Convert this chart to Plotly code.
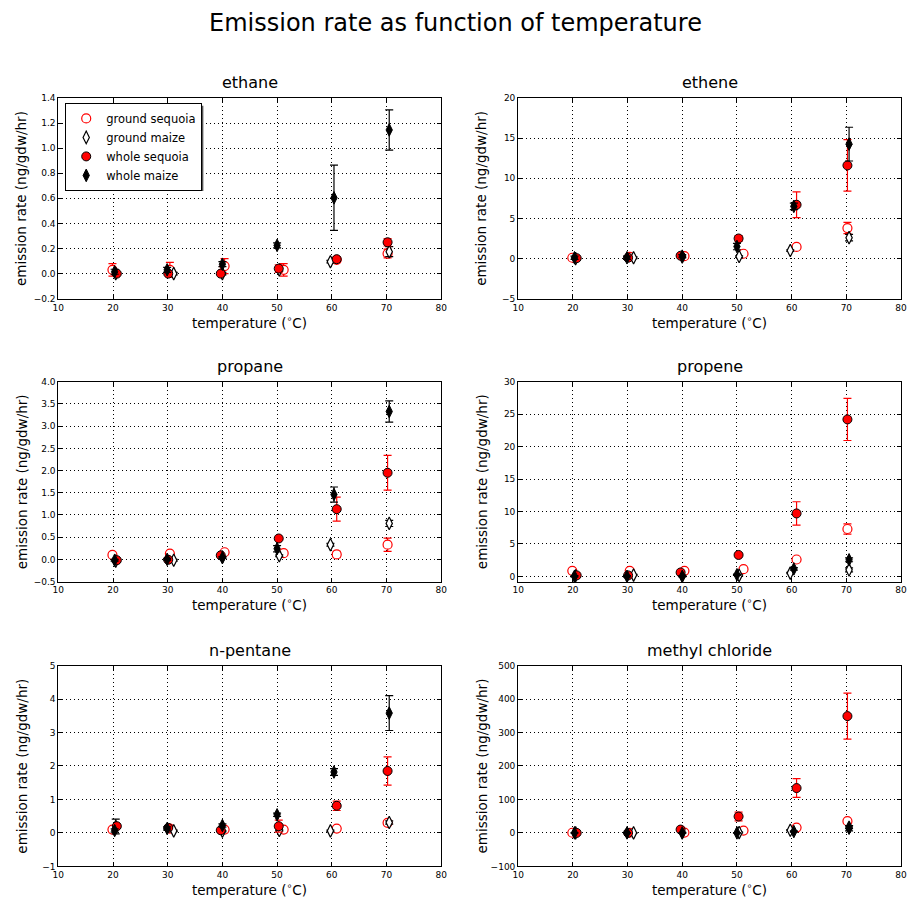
import plotly.graph_objects as go

# ---------------- data ----------------
compounds = ["ethane", "ethene", "propane", "propene", "n-pentane", "methyl chloride"]
series_names = ["ground sequoia", "ground maize", "whole sequoia", "whole maize"]

# measured temperatures (deg C) of each series
x_ground_sequoia = [19.9, 30.4, 40.4, 51.2, 60.9, 70.2]
x_ground_maize = [20.5, 31.1, 40.0, 50.4, 59.75, 70.5]
x_whole_sequoia = [20.7, 30.1, 39.7, 50.3, 60.9, 70.2]
x_whole_maize = [20.3, 29.9, 40.0, 50.0, 60.4, 70.5]

# ethane
ethane_gs = [0.03, 0.03, 0.06, 0.03, 0.11, 0.16]
ethane_gs_err = [0.05, 0.06, 0.06, 0.05, 0.02, 0.035]
ethane_gm = [0.0, 0.0, 0.0, 0.03, 0.095, 0.175]
ethane_gm_err = [0.01, 0.01, 0.01, 0.01, 0.01, 0.04]
ethane_ws = [0.0, 0.0, 0.0, 0.04, 0.115, 0.25]
ethane_ws_err = [0.01, 0.01, 0.01, 0.03, 0.01, 0.03]
ethane_wm = [0.015, 0.03, 0.075, 0.225, 0.604, 1.145]
ethane_wm_err = [0.02, 0.02, 0.02, 0.02, 0.26, 0.16]

# ethene
ethene_gs = [0.1, 0.2, 0.3, 0.6, 1.45, 3.8]
ethene_gs_err = [0.1, 0.1, 0.1, 0.1, 0.1, 0.7]
ethene_gm = [0.0, 0.1, 0.2, 0.25, 1.0, 2.6]
ethene_gm_err = [0.1, 0.1, 0.1, 0.1, 0.1, 0.4]
ethene_ws = [0.05, 0.1, 0.35, 2.5, 6.7, 11.6]
ethene_ws_err = [0.1, 0.1, 0.1, 0.35, 1.6, 3.2]
ethene_wm = [0.1, 0.1, 0.3, 1.5, 6.5, 14.25]
ethene_wm_err = [0.2, 0.2, 0.2, 0.4, 0.4, 2.1]

# propane
propane_gs = [0.1, 0.13, 0.16, 0.14, 0.11, 0.33]
propane_gs_err = [0.02, 0.02, 0.02, 0.02, 0.07, 0.15]
propane_gm = [-0.04, -0.02, 0.05, 0.08, 0.33, 0.81]
propane_gm_err = [0.02, 0.02, 0.02, 0.02, 0.03, 0.07]
propane_ws = [-0.02, -0.01, 0.09, 0.47, 1.13, 1.95]
propane_ws_err = [0.02, 0.02, 0.02, 0.02, 0.27, 0.39]
propane_wm = [-0.02, 0.0, 0.04, 0.24, 1.46, 3.33]
propane_wm_err = [0.02, 0.02, 0.02, 0.07, 0.17, 0.24]

# propene
propene_gs = [0.85, 0.85, 0.85, 1.1, 2.6, 7.3]
propene_gs_err = [0.1, 0.1, 0.1, 0.1, 0.2, 0.8]
propene_gm = [0.1, 0.2, 0.1, 0.15, 0.5, 1.0]
propene_gm_err = [0.1, 0.1, 0.1, 0.1, 0.1, 0.3]
propene_ws = [0.15, 0.15, 0.6, 3.3, 9.7, 24.2]
propene_ws_err = [0.1, 0.1, 0.1, 0.2, 1.8, 3.25]
propene_wm = [0.0, 0.0, 0.0, 0.25, 1.15, 2.55]
propene_wm_err = [0.1, 0.1, 0.1, 0.1, 0.2, 0.3]

# n-pentane
npentane_gs = [0.1, 0.13, 0.1, 0.1, 0.13, 0.3]
npentane_gs_err = [0.05, 0.02, 0.02, 0.02, 0.02, 0.06]
npentane_gm = [0.19, 0.06, 0.05, 0.07, 0.06, 0.31]
npentane_gm_err = [0.22, 0.02, 0.02, 0.02, 0.02, 0.05]
npentane_ws = [0.2, 0.15, 0.08, 0.2, 0.81, 1.85]
npentane_ws_err = [0.05, 0.02, 0.02, 0.18, 0.14, 0.42]
npentane_wm = [0.07, 0.13, 0.22, 0.54, 1.82, 3.58]
npentane_wm_err = [0.05, 0.05, 0.05, 0.05, 0.1, 0.52]

# methyl chloride
mecl_gs = [0.5, 0.5, 1.0, 7.0, 16.0, 35.0]
mecl_gs_err = [1, 1, 1, 2, 2, 5]
mecl_gm = [0.0, 0.0, 0.5, 1.0, 8.0, 17.0]
mecl_gm_err = [1, 1, 1, 1, 2, 4]
mecl_ws = [0.0, 0.0, 10.0, 49.0, 134.0, 349.0]
mecl_ws_err = [1, 1, 2, 13, 28, 69]
mecl_wm = [0.0, 0.0, 0.0, 0.0, 4.0, 14.0]
mecl_wm_err = [1, 1, 1, 1, 2, 8]

x_ticks = [10, 20, 30, 40, 50, 60, 70, 80]
y_ranges = [[-0.2, 1.4], [-5, 20], [-0.5, 4.0], [-0.8, 30], [-1, 5], [-100, 500]]
y_dticks = [0.2, 5, 0.5, 5, 1, 100]
y_formats = [".1f", "d", ".1f", "d", "d", "d"]

# ---------------- figure ----------------
W, H = 910, 903
FONT = "DejaVu Sans"
col_px = [(53, 441), (519, 907)]
row_px = [(94, 297), (381, 583), (668, 871)]

data_sets = [
    (ethane_gs, ethane_gs_err, ethane_gm, ethane_gm_err, ethane_ws, ethane_ws_err, ethane_wm, ethane_wm_err),
    (ethene_gs, ethene_gs_err, ethene_gm, ethene_gm_err, ethene_ws, ethene_ws_err, ethene_wm, ethene_wm_err),
    (propane_gs, propane_gs_err, propane_gm, propane_gm_err, propane_ws, propane_ws_err, propane_wm, propane_wm_err),
    (propene_gs, propene_gs_err, propene_gm, propene_gm_err, propene_ws, propene_ws_err, propene_wm, propene_wm_err),
    (npentane_gs, npentane_gs_err, npentane_gm, npentane_gm_err, npentane_ws, npentane_ws_err, npentane_wm, npentane_wm_err),
    (mecl_gs, mecl_gs_err, mecl_gm, mecl_gm_err, mecl_ws, mecl_ws_err, mecl_wm, mecl_wm_err),
]

styles = [
    dict(x=x_ground_sequoia, marker=dict(symbol="circle", size=9, color="white",
                                         line=dict(color="red", width=1.2)), ecolor="red"),
    dict(x=x_ground_maize, marker=dict(symbol="diamond-tall", size=9, color="white",
                                       line=dict(color="black", width=1.2)), ecolor="black"),
    dict(x=x_whole_sequoia, marker=dict(symbol="circle", size=9, color="red",
                                        line=dict(color="black", width=1)), ecolor="red"),
    dict(x=x_whole_maize, marker=dict(symbol="diamond-tall", size=9, color="black",
                                      line=dict(color="black", width=1)), ecolor="black"),
]

fig = go.Figure()
annotations = []

for i, name in enumerate(compounds):
    r, c = divmod(i, 2)
    ax = "" if i == 0 else str(i + 1)
    xa, ya = "x" + ax, "y" + ax
    vals = data_sets[i]
    for s in range(4):
        st = styles[s]
        fig.add_trace(go.Scatter(
            x=st["x"], y=vals[2 * s], mode="markers", name=series_names[s],
            legendgroup=series_names[s], showlegend=(i == 0),
            marker=st["marker"],
            error_y=dict(type="data", array=vals[2 * s + 1], visible=True,
                         color=st["ecolor"], thickness=1.2, width=4),
            xaxis=xa, yaxis=ya, cliponaxis=False,
        ))
    x0, x1 = col_px[c]
    y0, y1 = row_px[r]
    axis_common = dict(showline=True, linecolor="black", linewidth=1, mirror="ticks",
                       ticks="inside", ticklen=4, tickcolor="black", tickwidth=1,
                       showgrid=True, gridcolor="black", griddash="1px,3px", gridwidth=1,
                       zeroline=False, tickfont=dict(family=FONT, size=9, color="black"))
    fig.update_layout(**{
        "xaxis" + ax: dict(domain=[x0 / W, x1 / W], range=[10, 80], tickvals=x_ticks,
                           anchor=ya, **axis_common),
        "yaxis" + ax: dict(domain=[1 - y1 / H, 1 - y0 / H], range=y_ranges[i],
                           dtick=y_dticks[i], tick0=0, tickformat=y_formats[i],
                           anchor=xa, **axis_common),
    })
    cx = (x0 + x1) / 2 / W
    # subplot title
    annotations.append(dict(text=name, x=cx, y=1 - (y0 - 4) / H, xref="paper", yref="paper",
                            xanchor="center", yanchor="bottom", showarrow=False,
                            font=dict(family=FONT, size=16, color="black")))
    # x label
    annotations.append(dict(text="temperature (<sup>∘</sup>C)", x=cx, y=1 - (y1 + 12) / H,
                            xref="paper", yref="paper", xanchor="center", yanchor="top",
                            showarrow=False, font=dict(family=FONT, size=13.5, color="black")))
    # y label
    annotations.append(dict(text="emission rate (ng/gdw/hr)", x=(x0 - 27) / W,
                            y=1 - (y0 + y1) / 2 / H, xref="paper", yref="paper",
                            xanchor="right", yanchor="middle", textangle=-90, showarrow=False,
                            font=dict(family=FONT, size=13.5, color="black")))

annotations.append(dict(text="Emission rate as function of temperature", x=0.5, y=1 - 18 / H,
                        xref="paper", yref="paper", xanchor="center", yanchor="middle",
                        showarrow=False, font=dict(family=FONT, size=24, color="black")))

# legend shadow
shapes = [dict(type="rect", xref="paper", yref="paper", x0=63 / W, x1=200 / W,
               y0=1 - 188 / H, y1=1 - 102 / H, fillcolor="#555555", line=dict(width=0),
               layer="above")]

fig.update_layout(
    width=W, height=H, margin=dict(l=0, r=0, t=0, b=0),
    paper_bgcolor="white", plot_bgcolor="white",
    font=dict(family=FONT, color="black"),
    annotations=annotations, shapes=shapes,
    legend=dict(x=60 / W, y=1 - 99 / H, xanchor="left", yanchor="top",
                bgcolor="white", bordercolor="black", borderwidth=1,
                font=dict(family=FONT, size=11.5, color="black"),
                tracegroupgap=0, itemwidth=30),
    showlegend=True,
)

fig.write_html("out.html", config={"displayModeBar": False},
               post_script="document.body.style.margin='0';"
                           "document.body.style.overflow='hidden';")
